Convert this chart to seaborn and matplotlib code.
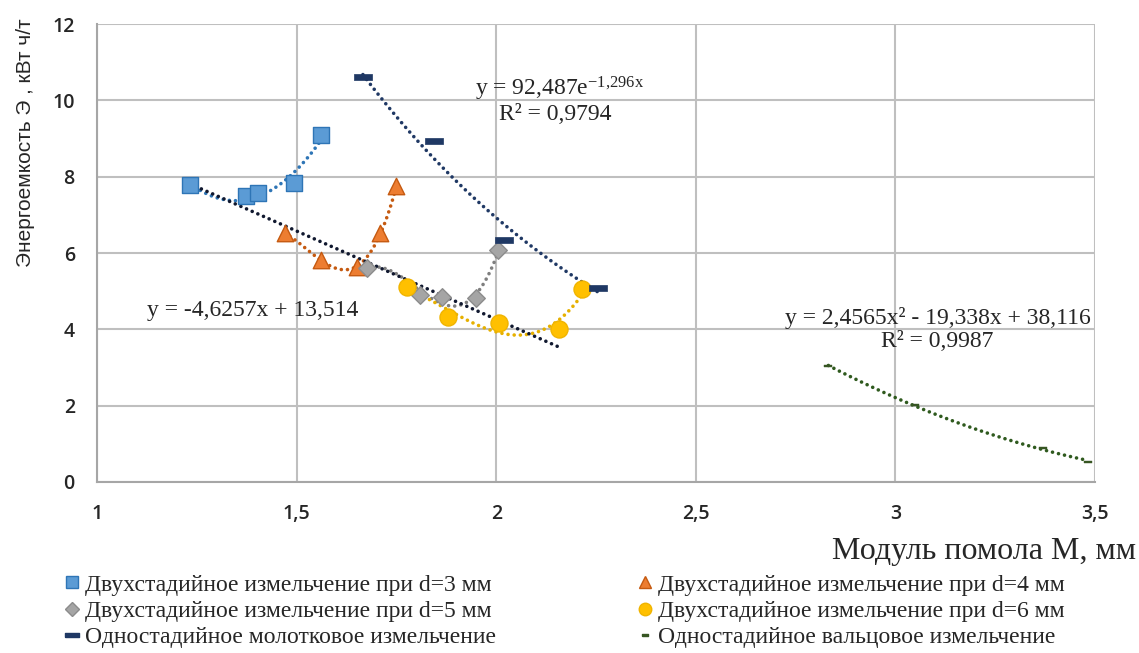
import numpy as np
import matplotlib
matplotlib.use("Agg")
import matplotlib.pyplot as plt
import seaborn as sns
from matplotlib.lines import Line2D

# two-stage grinding, sieve d=3..6 mm: grinding modulus M (mm) vs energy (kWh/t)
m_d3 = [1.233, 1.373, 1.403, 1.493, 1.561]
e_d3 = [7.78, 7.49, 7.57, 7.83, 9.09]
m_d4 = [1.47, 1.56, 1.65, 1.71, 1.75]
e_d4 = [6.52, 5.82, 5.64, 6.52, 7.75]
m_d5 = [1.676, 1.81, 1.865, 1.95, 2.005]
e_d5 = [5.60, 4.90, 4.84, 4.81, 6.08]
m_d6 = [1.777, 1.88, 2.008, 2.157, 2.216]
e_d6 = [5.12, 4.32, 4.16, 4.00, 5.05]
# single-stage hammer mill / roller mill
m_hammer = [1.666, 1.843, 2.02, 2.256]
e_hammer = [10.60, 8.93, 6.34, 5.07]
m_roll = [2.832, 3.049, 3.37, 3.483]
e_roll = [3.04, 2.02, 0.88, 0.53]

# trendline coefficients as printed on the chart
lin_k, lin_b = -4.6257, 13.514
lin_range = [1.233, 2.157]
exp_a, exp_k = 92.487, -1.296
quad = [2.4565, -19.338, 38.116]

labels = ["Двухстадийное измельчение при d=3 мм",
          "Двухстадийное измельчение при d=4 мм",
          "Двухстадийное измельчение при d=5 мм",
          "Двухстадийное измельчение при d=6 мм",
          "Одностадийное молотковое измельчение",
          "Одностадийное вальцовое измельчение"]
xticks = [1, 1.5, 2, 2.5, 3, 3.5]
xticklabels = ["1", "1,5", "2", "2,5", "3", "3,5"]
yticks = [0, 2, 4, 6, 8, 10, 12]

sns.set_style("white")
plt.rcParams["mathtext.default"] = "regular"
serif = "Liberation Serif"

fig = plt.figure(figsize=(11.39, 6.53), dpi=100)
ax = fig.add_axes([0.0852, 0.2619, 0.8762, 0.7013])

dash = [(-1, -0.28), (1, -0.28), (1, 0.28), (-1, 0.28), (-1, -0.28)]

dot = dict(linestyle=(0, (0.01, 1.7)), linewidth=2.6, dash_capstyle="round")


def poly_trend(x, y, deg, color):
    c = np.polyfit(x, y, deg)
    xs = np.linspace(min(x), max(x), 120)
    sns.lineplot(x=xs, y=np.polyval(c, xs), ax=ax, color=color, sort=False, **dot)


poly_trend(m_d3, e_d3, 2, "#2E75B6")
poly_trend(m_d4, e_d4, 3, "#C55A11")
poly_trend(m_d5, e_d5, 3, "#7F7F7F")
poly_trend(m_d6, e_d6, 3, "#E6B000")

xs = np.linspace(lin_range[0], lin_range[1], 50)
sns.lineplot(x=xs, y=lin_k * xs + lin_b, ax=ax, color="#10182f", sort=False, **dot)
xs = np.linspace(min(m_hammer), max(m_hammer), 80)
sns.lineplot(x=xs, y=exp_a * np.exp(exp_k * xs), ax=ax, color="#1F3864", sort=False, **dot)
xs = np.linspace(min(m_roll), max(m_roll), 80)
sns.lineplot(x=xs, y=np.polyval(quad, xs), ax=ax, color="#2F5A1E", sort=False, **dot)

sns.scatterplot(x=m_d3, y=e_d3, ax=ax, marker="s", s=130, color="#5B9BD5", edgecolor="#2E75B6", linewidth=1, zorder=5)
sns.scatterplot(x=m_d4, y=e_d4, ax=ax, marker="^", s=140, color="#ED7D31", edgecolor="#C55A11", linewidth=1, zorder=5)
sns.scatterplot(x=m_d5, y=e_d5, ax=ax, marker="D", s=80, color="#A5A5A5", edgecolor="#8C8C8C", linewidth=1, zorder=5)
sns.scatterplot(x=m_d6, y=e_d6, ax=ax, marker="o", s=150, color="#FFC000", edgecolor="#F0B400", linewidth=1, zorder=5)
sns.scatterplot(x=m_hammer, y=e_hammer, ax=ax, marker=dash, s=170, color="#1F3864", edgecolor="#1F3864", linewidth=0.5, zorder=5)
sns.scatterplot(x=m_roll, y=e_roll, ax=ax, marker=dash, s=30, color="#375623", edgecolor="#375623", linewidth=0.3, zorder=5)

ax.set_xlim(1, 3.5)
ax.set_ylim(0, 12)
ax.set_xticks(xticks)
ax.set_xticklabels(xticklabels)
ax.set_yticks(yticks)
ax.grid(True, color="#BFBFBF", linewidth=1.5)
ax.set_axisbelow(True)
for s in ["top", "right"]:
    ax.spines[s].set_visible(False)
for s in ["left", "bottom"]:
    ax.spines[s].set_color("#A6A6A6")
    ax.spines[s].set_linewidth(1.5)
ax.tick_params(axis="both", length=0, labelsize=14, colors="#262626", pad=16)
for t in ax.get_xticklabels() + ax.get_yticklabels():
    t.set_family("Open Sans")
    t.set_fontweight("semibold")
ax.set_xlabel("")
ax.set_ylabel("Энергоемкость Э , кВт ч/т", family="Liberation Sans", fontsize=15, color="#262626")
ax.yaxis.set_label_coords(-0.062, 0.74)

# trendline equations
eq = dict(family=serif, fontsize=17, va="center")
ax.text(1.125, 4.5, "y = -4,6257x + 13,514", ha="left", **eq)
ax.text(1.947, 10.3, r"y = 92,487e$^{-1{,}296x}$", ha="left", **eq)
ax.text(2.147, 9.64, "R² = 0,9794", ha="center", **eq)
ax.text(3.107, 4.30, "y = 2,4565x² - 19,338x + 38,116", ha="center", **eq)
ax.text(3.104, 3.67, "R² = 0,9987", ha="center", **eq)

fig.text(0.997, 0.156, "Модуль помола М, мм", family=serif, fontsize=23, ha="right", va="center")


def handle(marker, color, edge, size):
    return Line2D([], [], linestyle="none", marker=marker, markersize=size,
                  markerfacecolor=color, markeredgecolor=edge)


h = [handle("s", "#5B9BD5", "#2E75B6", 9),
     handle("^", "#ED7D31", "#C55A11", 9),
     handle("D", "#A5A5A5", "#8C8C8C", 7),
     handle("o", "#FFC000", "#F0B400", 9),
     handle(dash, "#1F3864", "#1F3864", 10),
     handle(dash, "#375623", "#375623", 5)]
leg_kw = dict(frameon=False, prop={"family": serif, "size": 17}, handlelength=0.6,
              handletextpad=0.25, labelspacing=0.2, borderpad=0, loc="upper left")
fig.legend([h[0], h[2], h[4]], [labels[0], labels[2], labels[4]], bbox_to_anchor=(0.047, 0.139), **leg_kw)
fig.legend([h[1], h[3], h[5]], [labels[1], labels[3], labels[5]], bbox_to_anchor=(0.55, 0.139), **leg_kw)

fig.savefig("out.png", dpi=100)
